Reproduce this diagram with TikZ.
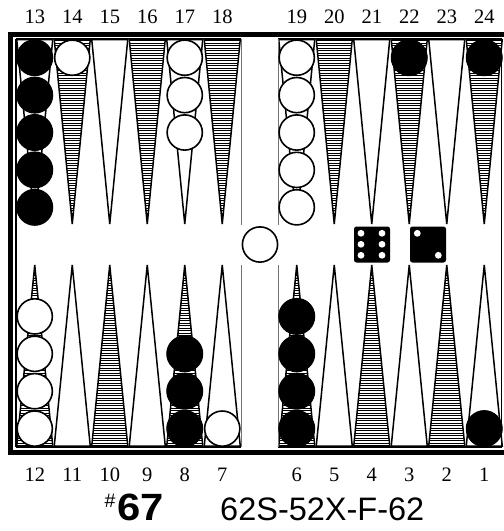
\documentclass[tikz,border=0pt]{standalone}
\usepackage{fontspec}
\newfontfamily\capfont{Liberation Sans}
\newfontfamily\numfont{Liberation Serif}
\begin{document}
\begin{tikzpicture}[x=1pt,y=-1pt,
  ptline/.style={draw=black,line width=1.5pt,line join=miter},
  hatchline/.style={line width=0.9pt},
  blk/.style={circle,fill=black,draw=black,line width=1pt,minimum size=36pt,inner sep=0pt},
  wht/.style={circle,fill=white,draw=black,line width=1.6pt,minimum size=35.2pt,inner sep=0pt},
  die/.style={rectangle,rounded corners=2.5pt,fill=black,minimum size=36pt,inner sep=0pt},
  pip/.style={fill=white},
  numlab/.style={font=\numfont\fontsize{20.5}{24}\selectfont,inner sep=0pt},
  barline/.style={draw=black!55,line width=1pt},
  edge/.style={draw=black,line width=1.3pt}]
\useasboundingbox (0,0) rectangle (504,531);
% outer frame
\draw[line width=5pt] (10.5,34) rectangle (530,452.5);
\fill[white] (13,36.5) rectangle (504,450);
% points
\newcommand\ptri[4]{%
  \ifnum#4=1
    \begin{scope}
      \clip (#1-18,#2) -- (#1+18,#2) -- (#1,#3) -- cycle;
      \foreach \yy in {38,40.5,...,448} \draw[hatchline] (#1-18,\yy) -- (#1+18,\yy);
    \end{scope}
  \fi
  \draw[ptline] (#1-18,#2) -- (#1+18,#2) -- (#1,#3) -- cycle;}
% top row: 13..18 then 19..24 ; hatched = odd column index
\foreach \cx/\h in {34.75/0,72.25/1,109.75/0,147.25/1,184.75/0,222.25/1,
                    296.75/0,334.25/1,371.75/0,409.25/1,446.75/0,484.25/1}
  {\ptri{\cx}{39.5}{224}{\h}}
% bottom row: 12..7 then 6..1 ; hatched = even column index
\foreach \cx/\h in {34.75/1,72.25/0,109.75/1,147.25/0,184.75/1,222.25/0,
                    296.75/1,334.25/0,371.75/1,409.25/0,446.75/1,484.25/0}
  {\ptri{\cx}{446}{265}{\h}}
% board edges
\draw[edge] (16,38.5) -- (241,38.5);
\draw[edge] (278,38.5) -- (502,38.5);
\draw[edge] (16,447) -- (241,447);
\draw[edge] (278,447) -- (502,447);
\draw[edge] (16,38.5) -- (16,447);
\draw[edge] (501.5,38.5) -- (501.5,447);
\draw[barline] (241,38.5) -- (241,225);
\draw[barline] (241,265) -- (241,447);
\draw[barline] (278,38.5) -- (278,225);
\draw[barline] (278,265) -- (278,447);
% checkers, top
\foreach \k in {1,...,5} \node[blk] (p13-\k) at (34.75,{57.7+37.4*(\k-1)}) {};
\node[wht] (p14-1) at (72.25,57.7) {};
\foreach \k in {1,...,3} \node[wht] (p17-\k) at (184.75,{57.7+37.4*(\k-1)}) {};
\foreach \k in {1,...,5} \node[wht] (p19-\k) at (296.75,{57.7+37.4*(\k-1)}) {};
\node[blk] (p22-1) at (409.25,57.7) {};
\node[blk] (p24-1) at (484.25,57.7) {};
% checkers, bottom
\foreach \k in {1,...,4} \node[wht] (p12-\k) at (34.75,{428.6-37.4*(\k-1)}) {};
\foreach \k in {1,...,3} \node[blk] (p8-\k) at (184.75,{428.6-37.4*(\k-1)}) {};
\node[wht] (p7-1) at (222.25,428.6) {};
\foreach \k in {1,...,4} \node[blk] (p6-\k) at (296.75,{428.6-37.4*(\k-1)}) {};
\node[blk] (p1-1) at (484.25,428.6) {};
% bar checker
\node[wht] (bar) at (260,244.5) {};
% dice
\node[die] (die6) at (372,244.5) {};
\node[die] (die2) at (428,244.5) {};
\foreach \px/\py in {361/233.3,382/233.3,361/244.3,382/244.3,361/255.3,382/255.3}
  \fill[pip] (\px,\py) circle (3.4);
\foreach \px/\py in {417.3/233.3,438.3/255.3}
  \fill[pip] (\px,\py) circle (3.4);
% top numbers
\foreach \n/\cx in {13/34.75,14/72.25,15/109.75,16/147.25,17/184.75,18/222.25,
                    19/296.75,20/334.25,21/371.75,22/409.25,23/446.75,24/484.25}
  \node[numlab] (t\n) at (\cx,17) {\n};
% bottom numbers
\foreach \n/\cx in {12/34.75,11/72.25,10/109.75,9/147.25,8/184.75,7/222.25,
                    6/296.75,5/334.25,4/371.75,3/409.25,2/446.75,1/484.25}
  \node[numlab] (b\n) at (\cx,474.5) {\n};
% caption
\node[anchor=base west,inner sep=0pt,font=\capfont\fontsize{19.5}{22}\selectfont] (hash) at (104.5,507) {\#};
\node[anchor=base west,inner sep=0pt,font=\capfont\bfseries\fontsize{38}{40}\selectfont] (num) at (117,520) {\scalebox{1.1}[1]{67}};
\node[anchor=base west,inner sep=0pt,font=\capfont\fontsize{32.5}{36}\selectfont] (code) at (220,520) {62S-52X-F-62};
\end{tikzpicture}
\end{document}
